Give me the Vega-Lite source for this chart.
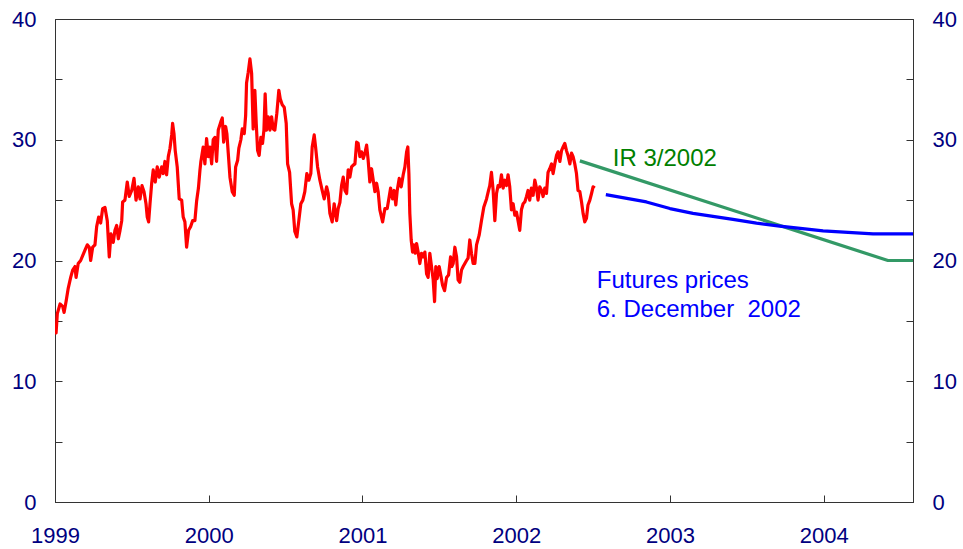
{
  "$schema": "https://vega.github.io/schema/vega-lite/v6.json",
  "autosize": {"type": "none"},
  "width": 858,
  "height": 483,
  "padding": {"left": 55, "top": 19, "right": 50, "bottom": 47},
  "background": "white",
  "config": {
    "view": {"stroke": "#333333", "strokeWidth": 1},
    "axisX": {
      "format": "d", "title": null, "grid": false,
      "domainColor": "#333333", "tickColor": "#333333",
      "tickSize": -7, "labelPadding": 30,
      "labelFont": "Liberation Sans", "labelFontSize": 22, "labelColor": "#000080",
      "labelFlush": false, "labelOverlap": false
    },
    "axisY": {
      "title": null, "grid": false,
      "domainColor": "#333333", "tickColor": "#333333",
      "tickSize": -7, "labelPadding": 26,
      "labelFont": "Liberation Sans", "labelFontSize": 22, "labelColor": "#000080",
      "labelFlush": false, "labelOverlap": false
    }
  },
  "datasets": {
    "lines": [
      {"s":"oil","t":1999.000,"v":14.4},{"s":"oil","t":1999.007,"v":14.0},{"s":"oil","t":1999.015,"v":15.6},{"s":"oil","t":1999.033,"v":16.4},{"s":"oil","t":1999.050,"v":16.2},{"s":"oil","t":1999.059,"v":15.7},{"s":"oil","t":1999.072,"v":16.6},{"s":"oil","t":1999.086,"v":17.7},{"s":"oil","t":1999.102,"v":18.6},{"s":"oil","t":1999.115,"v":19.2},{"s":"oil","t":1999.130,"v":19.5},{"s":"oil","t":1999.137,"v":18.6},{"s":"oil","t":1999.151,"v":19.75},{"s":"oil","t":1999.167,"v":20.0},{"s":"oil","t":1999.180,"v":20.4},{"s":"oil","t":1999.195,"v":20.85},{"s":"oil","t":1999.210,"v":21.3},{"s":"oil","t":1999.223,"v":21.1},{"s":"oil","t":1999.232,"v":20.0},{"s":"oil","t":1999.245,"v":21.1},{"s":"oil","t":1999.260,"v":21.3},{"s":"oil","t":1999.271,"v":22.8},{"s":"oil","t":1999.284,"v":23.6},{"s":"oil","t":1999.297,"v":23.1},{"s":"oil","t":1999.310,"v":24.3},{"s":"oil","t":1999.325,"v":24.4},{"s":"oil","t":1999.340,"v":23.3},{"s":"oil","t":1999.353,"v":20.3},{"s":"oil","t":1999.364,"v":22.2},{"s":"oil","t":1999.379,"v":21.5},{"s":"oil","t":1999.390,"v":22.5},{"s":"oil","t":1999.401,"v":22.9},{"s":"oil","t":1999.412,"v":21.8},{"s":"oil","t":1999.423,"v":22.5},{"s":"oil","t":1999.434,"v":23.3},{"s":"oil","t":1999.440,"v":24.85},{"s":"oil","t":1999.455,"v":25.0},{"s":"oil","t":1999.470,"v":26.5},{"s":"oil","t":1999.483,"v":25.3},{"s":"oil","t":1999.499,"v":25.8},{"s":"oil","t":1999.514,"v":26.8},{"s":"oil","t":1999.527,"v":25.0},{"s":"oil","t":1999.542,"v":26.1},{"s":"oil","t":1999.553,"v":25.1},{"s":"oil","t":1999.566,"v":26.2},{"s":"oil","t":1999.579,"v":25.7},{"s":"oil","t":1999.592,"v":24.7},{"s":"oil","t":1999.600,"v":23.6},{"s":"oil","t":1999.609,"v":23.2},{"s":"oil","t":1999.618,"v":24.7},{"s":"oil","t":1999.629,"v":26.4},{"s":"oil","t":1999.639,"v":27.5},{"s":"oil","t":1999.652,"v":26.5},{"s":"oil","t":1999.665,"v":27.75},{"s":"oil","t":1999.678,"v":26.9},{"s":"oil","t":1999.694,"v":27.75},{"s":"oil","t":1999.704,"v":27.2},{"s":"oil","t":1999.715,"v":28.2},{"s":"oil","t":1999.726,"v":27.1},{"s":"oil","t":1999.737,"v":28.6},{"s":"oil","t":1999.748,"v":29.3},{"s":"oil","t":1999.759,"v":30.4},{"s":"oil","t":1999.765,"v":31.35},{"s":"oil","t":1999.774,"v":30.5},{"s":"oil","t":1999.782,"v":29.1},{"s":"oil","t":1999.795,"v":27.75},{"s":"oil","t":1999.808,"v":25.1},{"s":"oil","t":1999.824,"v":25.0},{"s":"oil","t":1999.834,"v":23.6},{"s":"oil","t":1999.845,"v":23.2},{"s":"oil","t":1999.856,"v":21.1},{"s":"oil","t":1999.869,"v":22.5},{"s":"oil","t":1999.882,"v":22.8},{"s":"oil","t":1999.895,"v":23.3},{"s":"oil","t":1999.910,"v":23.3},{"s":"oil","t":1999.921,"v":24.9},{"s":"oil","t":1999.933,"v":26.0},{"s":"oil","t":1999.943,"v":27.5},{"s":"oil","t":1999.949,"v":28.2},{"s":"oil","t":1999.964,"v":29.4},{"s":"oil","t":1999.975,"v":28.0},{"s":"oil","t":1999.986,"v":30.1},{"s":"oil","t":1999.997,"v":28.6},{"s":"oil","t":2000.008,"v":29.4},{"s":"oil","t":2000.019,"v":28.0},{"s":"oil","t":2000.029,"v":30.0},{"s":"oil","t":2000.040,"v":30.2},{"s":"oil","t":2000.051,"v":28.2},{"s":"oil","t":2000.062,"v":30.8},{"s":"oil","t":2000.079,"v":31.5},{"s":"oil","t":2000.088,"v":31.8},{"s":"oil","t":2000.097,"v":29.8},{"s":"oil","t":2000.110,"v":31.1},{"s":"oil","t":2000.118,"v":30.5},{"s":"oil","t":2000.127,"v":28.9},{"s":"oil","t":2000.138,"v":26.9},{"s":"oil","t":2000.153,"v":25.7},{"s":"oil","t":2000.166,"v":25.4},{"s":"oil","t":2000.175,"v":27.75},{"s":"oil","t":2000.188,"v":28.3},{"s":"oil","t":2000.196,"v":29.3},{"s":"oil","t":2000.209,"v":30.0},{"s":"oil","t":2000.218,"v":30.9},{"s":"oil","t":2000.231,"v":30.5},{"s":"oil","t":2000.240,"v":32.0},{"s":"oil","t":2000.246,"v":34.7},{"s":"oil","t":2000.257,"v":35.6},{"s":"oil","t":2000.268,"v":36.7},{"s":"oil","t":2000.279,"v":35.5},{"s":"oil","t":2000.289,"v":30.9},{"s":"oil","t":2000.300,"v":34.1},{"s":"oil","t":2000.309,"v":31.35},{"s":"oil","t":2000.318,"v":29.1},{"s":"oil","t":2000.328,"v":28.7},{"s":"oil","t":2000.339,"v":30.2},{"s":"oil","t":2000.350,"v":29.7},{"s":"oil","t":2000.359,"v":30.8},{"s":"oil","t":2000.367,"v":33.8},{"s":"oil","t":2000.376,"v":30.8},{"s":"oil","t":2000.387,"v":31.9},{"s":"oil","t":2000.398,"v":30.8},{"s":"oil","t":2000.409,"v":31.9},{"s":"oil","t":2000.419,"v":30.9},{"s":"oil","t":2000.430,"v":30.8},{"s":"oil","t":2000.443,"v":32.2},{"s":"oil","t":2000.456,"v":34.1},{"s":"oil","t":2000.465,"v":33.4},{"s":"oil","t":2000.478,"v":32.9},{"s":"oil","t":2000.491,"v":32.7},{"s":"oil","t":2000.504,"v":31.35},{"s":"oil","t":2000.513,"v":28.0},{"s":"oil","t":2000.526,"v":27.3},{"s":"oil","t":2000.539,"v":24.7},{"s":"oil","t":2000.549,"v":24.2},{"s":"oil","t":2000.560,"v":22.4},{"s":"oil","t":2000.573,"v":21.95},{"s":"oil","t":2000.586,"v":23.3},{"s":"oil","t":2000.599,"v":24.7},{"s":"oil","t":2000.612,"v":25.0},{"s":"oil","t":2000.625,"v":25.7},{"s":"oil","t":2000.638,"v":27.2},{"s":"oil","t":2000.651,"v":26.65},{"s":"oil","t":2000.664,"v":27.2},{"s":"oil","t":2000.673,"v":29.4},{"s":"oil","t":2000.686,"v":30.4},{"s":"oil","t":2000.695,"v":29.4},{"s":"oil","t":2000.708,"v":27.75},{"s":"oil","t":2000.723,"v":26.65},{"s":"oil","t":2000.738,"v":25.8},{"s":"oil","t":2000.751,"v":25.1},{"s":"oil","t":2000.767,"v":26.1},{"s":"oil","t":2000.777,"v":25.55},{"s":"oil","t":2000.788,"v":23.9},{"s":"oil","t":2000.803,"v":23.2},{"s":"oil","t":2000.816,"v":24.7},{"s":"oil","t":2000.832,"v":23.3},{"s":"oil","t":2000.842,"v":24.3},{"s":"oil","t":2000.853,"v":24.8},{"s":"oil","t":2000.864,"v":26.2},{"s":"oil","t":2000.875,"v":26.9},{"s":"oil","t":2000.886,"v":25.8},{"s":"oil","t":2000.897,"v":25.55},{"s":"oil","t":2000.907,"v":27.5},{"s":"oil","t":2000.918,"v":26.9},{"s":"oil","t":2000.929,"v":27.75},{"s":"oil","t":2000.940,"v":27.9},{"s":"oil","t":2000.951,"v":28.0},{"s":"oil","t":2000.962,"v":29.8},{"s":"oil","t":2000.972,"v":29.7},{"s":"oil","t":2000.983,"v":28.6},{"s":"oil","t":2000.994,"v":29.0},{"s":"oil","t":2001.005,"v":28.45},{"s":"oil","t":2001.016,"v":28.9},{"s":"oil","t":2001.027,"v":29.55},{"s":"oil","t":2001.037,"v":28.3},{"s":"oil","t":2001.048,"v":26.5},{"s":"oil","t":2001.059,"v":27.6},{"s":"oil","t":2001.070,"v":26.65},{"s":"oil","t":2001.081,"v":25.7},{"s":"oil","t":2001.092,"v":26.4},{"s":"oil","t":2001.102,"v":25.7},{"s":"oil","t":2001.113,"v":24.2},{"s":"oil","t":2001.131,"v":23.2},{"s":"oil","t":2001.146,"v":24.3},{"s":"oil","t":2001.161,"v":24.3},{"s":"oil","t":2001.174,"v":25.3},{"s":"oil","t":2001.183,"v":26.0},{"s":"oil","t":2001.196,"v":25.1},{"s":"oil","t":2001.206,"v":25.8},{"s":"oil","t":2001.217,"v":24.6},{"s":"oil","t":2001.226,"v":25.8},{"s":"oil","t":2001.239,"v":26.8},{"s":"oil","t":2001.252,"v":26.1},{"s":"oil","t":2001.265,"v":27.1},{"s":"oil","t":2001.276,"v":27.75},{"s":"oil","t":2001.287,"v":29.0},{"s":"oil","t":2001.295,"v":29.4},{"s":"oil","t":2001.302,"v":27.2},{"s":"oil","t":2001.308,"v":23.9},{"s":"oil","t":2001.317,"v":21.7},{"s":"oil","t":2001.326,"v":20.7},{"s":"oil","t":2001.334,"v":21.3},{"s":"oil","t":2001.343,"v":20.6},{"s":"oil","t":2001.352,"v":21.4},{"s":"oil","t":2001.362,"v":20.7},{"s":"oil","t":2001.373,"v":19.75},{"s":"oil","t":2001.384,"v":20.6},{"s":"oil","t":2001.395,"v":20.3},{"s":"oil","t":2001.406,"v":20.7},{"s":"oil","t":2001.417,"v":18.9},{"s":"oil","t":2001.427,"v":18.6},{"s":"oil","t":2001.438,"v":20.6},{"s":"oil","t":2001.449,"v":19.5},{"s":"oil","t":2001.460,"v":18.4},{"s":"oil","t":2001.469,"v":16.6},{"s":"oil","t":2001.477,"v":19.5},{"s":"oil","t":2001.486,"v":18.5},{"s":"oil","t":2001.499,"v":19.5},{"s":"oil","t":2001.512,"v":18.6},{"s":"oil","t":2001.521,"v":17.95},{"s":"oil","t":2001.534,"v":17.5},{"s":"oil","t":2001.547,"v":18.6},{"s":"oil","t":2001.560,"v":18.8},{"s":"oil","t":2001.573,"v":20.3},{"s":"oil","t":2001.581,"v":19.5},{"s":"oil","t":2001.590,"v":19.75},{"s":"oil","t":2001.601,"v":21.1},{"s":"oil","t":2001.612,"v":20.3},{"s":"oil","t":2001.622,"v":18.4},{"s":"oil","t":2001.633,"v":18.2},{"s":"oil","t":2001.644,"v":19.2},{"s":"oil","t":2001.655,"v":19.5},{"s":"oil","t":2001.666,"v":19.75},{"s":"oil","t":2001.677,"v":20.0},{"s":"oil","t":2001.687,"v":20.2},{"s":"oil","t":2001.698,"v":21.7},{"s":"oil","t":2001.709,"v":20.6},{"s":"oil","t":2001.720,"v":19.75},{"s":"oil","t":2001.731,"v":19.75},{"s":"oil","t":2001.742,"v":21.3},{"s":"oil","t":2001.759,"v":22.1},{"s":"oil","t":2001.774,"v":23.3},{"s":"oil","t":2001.789,"v":24.4},{"s":"oil","t":2001.807,"v":25.1},{"s":"oil","t":2001.820,"v":25.8},{"s":"oil","t":2001.828,"v":26.2},{"s":"oil","t":2001.839,"v":27.3},{"s":"oil","t":2001.850,"v":25.8},{"s":"oil","t":2001.861,"v":23.3},{"s":"oil","t":2001.872,"v":25.55},{"s":"oil","t":2001.882,"v":26.2},{"s":"oil","t":2001.893,"v":26.1},{"s":"oil","t":2001.904,"v":27.1},{"s":"oil","t":2001.915,"v":26.0},{"s":"oil","t":2001.926,"v":26.65},{"s":"oil","t":2001.937,"v":26.2},{"s":"oil","t":2001.947,"v":27.1},{"s":"oil","t":2001.958,"v":26.1},{"s":"oil","t":2001.969,"v":24.2},{"s":"oil","t":2001.980,"v":24.7},{"s":"oil","t":2001.991,"v":23.75},{"s":"oil","t":2002.002,"v":24.0},{"s":"oil","t":2002.012,"v":23.3},{"s":"oil","t":2002.023,"v":22.5},{"s":"oil","t":2002.034,"v":24.2},{"s":"oil","t":2002.045,"v":24.7},{"s":"oil","t":2002.056,"v":24.85},{"s":"oil","t":2002.067,"v":25.3},{"s":"oil","t":2002.077,"v":25.8},{"s":"oil","t":2002.088,"v":25.0},{"s":"oil","t":2002.099,"v":26.0},{"s":"oil","t":2002.110,"v":25.4},{"s":"oil","t":2002.121,"v":26.65},{"s":"oil","t":2002.132,"v":26.0},{"s":"oil","t":2002.142,"v":25.0},{"s":"oil","t":2002.153,"v":26.1},{"s":"oil","t":2002.165,"v":25.8},{"s":"oil","t":2002.175,"v":25.3},{"s":"oil","t":2002.186,"v":26.0},{"s":"oil","t":2002.197,"v":25.55},{"s":"oil","t":2002.207,"v":27.3},{"s":"oil","t":2002.218,"v":27.6},{"s":"oil","t":2002.230,"v":28.0},{"s":"oil","t":2002.240,"v":27.2},{"s":"oil","t":2002.251,"v":28.0},{"s":"oil","t":2002.262,"v":28.7},{"s":"oil","t":2002.272,"v":29.0},{"s":"oil","t":2002.284,"v":28.2},{"s":"oil","t":2002.295,"v":29.1},{"s":"oil","t":2002.305,"v":29.4},{"s":"oil","t":2002.316,"v":29.7},{"s":"oil","t":2002.327,"v":29.1},{"s":"oil","t":2002.337,"v":28.7},{"s":"oil","t":2002.349,"v":28.0},{"s":"oil","t":2002.360,"v":28.9},{"s":"oil","t":2002.370,"v":28.6},{"s":"oil","t":2002.381,"v":28.0},{"s":"oil","t":2002.392,"v":27.2},{"s":"oil","t":2002.402,"v":25.8},{"s":"oil","t":2002.414,"v":25.7},{"s":"oil","t":2002.425,"v":24.85},{"s":"oil","t":2002.435,"v":23.9},{"s":"oil","t":2002.446,"v":23.2},{"s":"oil","t":2002.457,"v":23.5},{"s":"oil","t":2002.467,"v":24.6},{"s":"oil","t":2002.479,"v":25.0},{"s":"oil","t":2002.490,"v":25.55},{"s":"oil","t":2002.500,"v":26.1},{"s":"oil","t":2002.511,"v":26.0},
      {"s":"ir","t":2002.414,"v":28.25},{"s":"ir","t":2004.418,"v":20.0},{"s":"ir","t":2004.581,"v":20.0},
      {"s":"fut","t":2002.583,"v":25.45},{"s":"fut","t":2002.847,"v":24.85},{"s":"fut","t":2003.000,"v":24.3},{"s":"fut","t":2003.150,"v":23.9},{"s":"fut","t":2003.410,"v":23.4},{"s":"fut","t":2003.563,"v":23.1},{"s":"fut","t":2003.714,"v":22.85},{"s":"fut","t":2003.996,"v":22.45},{"s":"fut","t":2004.321,"v":22.2},{"s":"fut","t":2004.581,"v":22.2}
    ],
    "labels": [
      {"t":2002.628,"v":27.8,"text":"IR 3/2002","c":"ir"},
      {"t":2002.524,"v":17.7,"text":"Futures prices","c":"fut"},
      {"t":2002.524,"v":15.3,"text":"6. December \u00a02002","c":"fut"}
    ]
  },
  "resolve": {"scale": {"y": "shared", "x": "shared", "color": "independent"}, "axis": {"y": "independent"}},
  "layer": [
    {
      "data": {"name": "lines"},
      "mark": {"type": "line", "strokeWidth": 3.2, "strokeJoin": "round", "clip": true},
      "encoding": {
        "x": {
          "field": "t", "type": "quantitative",
          "scale": {"domain": [1999, 2004.581], "nice": false, "zero": false},
          "axis": {"orient": "bottom", "values": [1999, 2000, 2001, 2002, 2003, 2004]}
        },
        "y": {
          "field": "v", "type": "quantitative",
          "scale": {"domain": [0, 40], "nice": false},
          "axis": {
            "orient": "left",
            "values": [0, 5, 10, 15, 20, 25, 30, 35, 40],
            "labelExpr": "datum.value % 10 === 0 ? datum.label : ''"
          }
        },
        "detail": {"field": "s"},
        "color": {
          "field": "s", "type": "nominal",
          "scale": {"domain": ["oil", "ir", "fut"], "range": ["#ff0000", "#339966", "#0000ff"]},
          "legend": null
        }
      }
    },
    {
      "data": {"name": "labels"},
      "mark": {"type": "text", "align": "left", "baseline": "alphabetic", "font": "Liberation Sans", "fontSize": 24},
      "encoding": {
        "x": {"field": "t", "type": "quantitative", "axis": {"orient": "bottom", "values": [1999, 2000, 2001, 2002, 2003, 2004]}},
        "y": {
          "field": "v", "type": "quantitative",
          "axis": {
            "orient": "right",
            "values": [0, 5, 10, 15, 20, 25, 30, 35, 40],
            "labelExpr": "datum.value % 10 === 0 ? datum.label : ''"
          }
        },
        "text": {"field": "text"},
        "color": {
          "field": "c", "type": "nominal",
          "scale": {"domain": ["ir", "fut"], "range": ["#008000", "#0000ff"]},
          "legend": null
        }
      }
    }
  ]
}
